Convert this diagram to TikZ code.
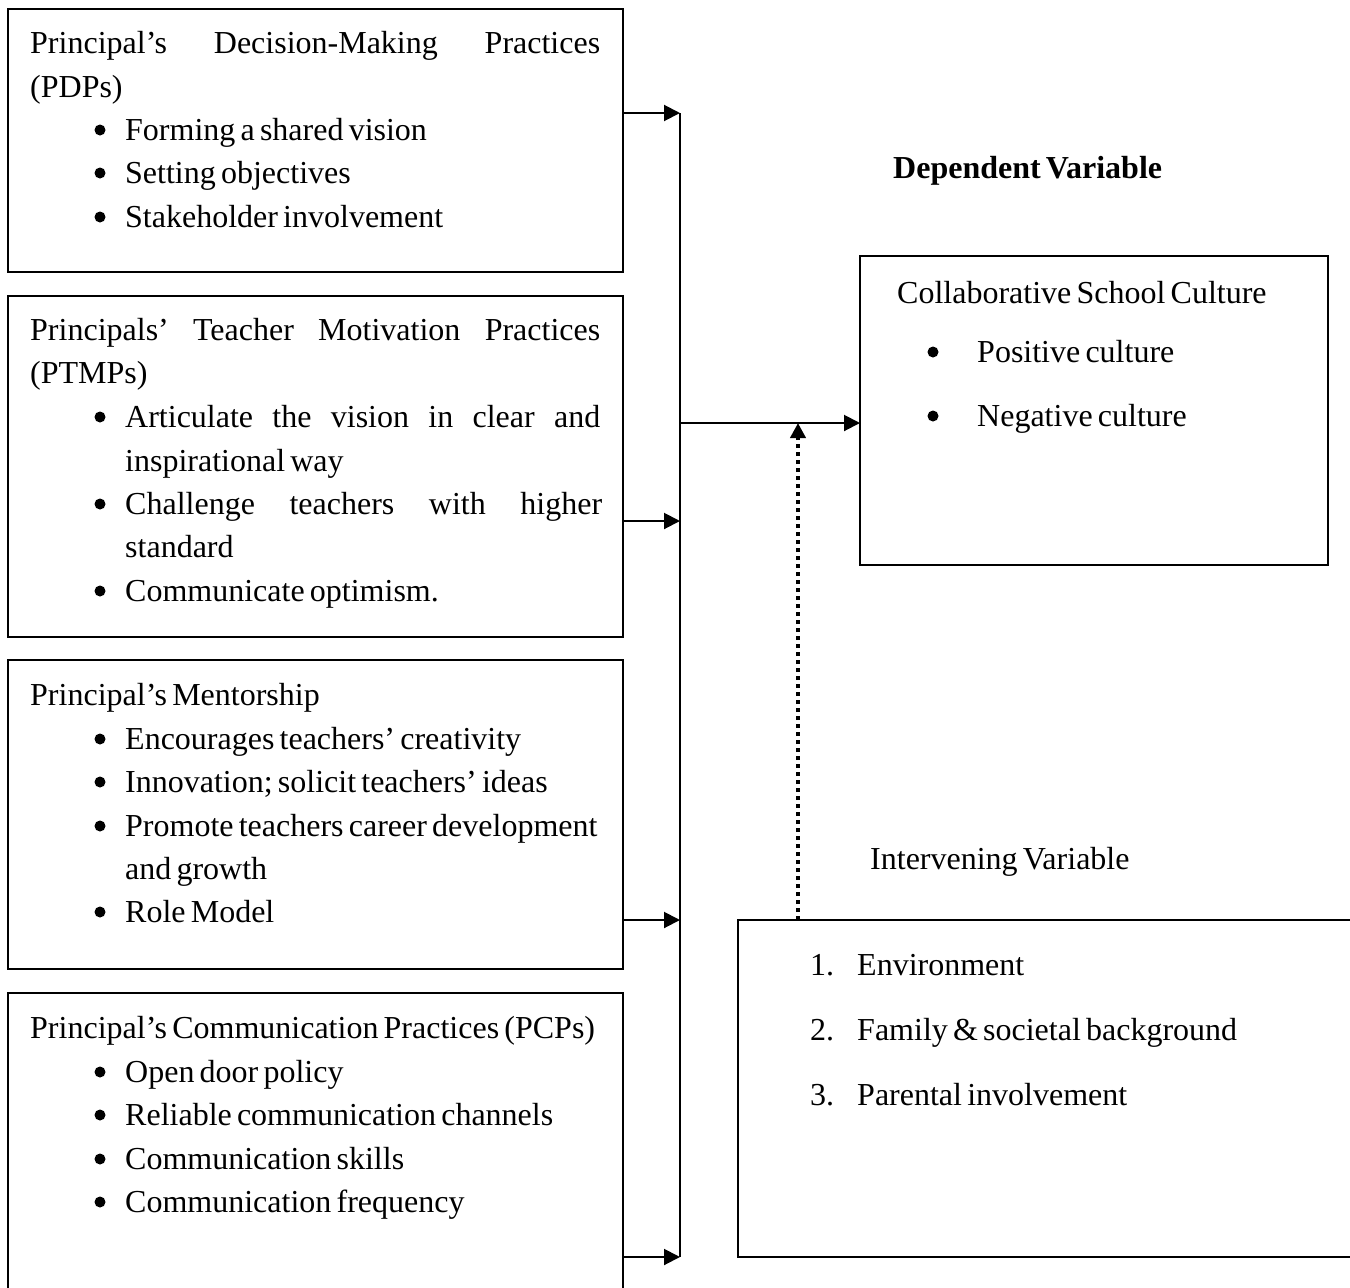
\documentclass[tikz,border=0pt]{standalone}
\usepackage{fontspec}
\setmainfont[WordSpace=0.65]{Liberation Serif}
\usetikzlibrary{arrows.meta}
\begin{document}
\begin{tikzpicture}[x=1pt,y=-1pt,
  every node/.style={font=\fontsize{32}{43.5}\selectfont},
  box/.style={draw,line width=2pt,anchor=north west,inner sep=0pt,outer sep=0pt},
  txt/.style={anchor=base west,inner sep=0pt},
  bul/.style={circle,fill,inner sep=0pt,minimum size=11pt,yshift=10pt},
  conn/.style={line width=2pt},
  arr/.style={line width=2pt,-{Triangle[length=16pt,width=16pt]}},
  dotarr/.style={line width=4pt,dash pattern=on 4pt off 4pt,-{Triangle[length=15pt,width=15pt]}}
]
\useasboundingbox (0,0) rectangle (1350,1288);
\clip (0,0) rectangle (1350,1288);
\fill[white] (0,0) rectangle (1350,1288);

% boxes
\node[box,minimum width=615pt,minimum height=263pt] (b1) at (8,9) {};
\node[box,minimum width=615pt,minimum height=341pt] (b2) at (8,296) {};
\node[box,minimum width=615pt,minimum height=309pt] (b3) at (8,660) {};
\node[box,minimum width=615pt,minimum height=340pt] (b4) at (8,993) {};
\node[box,minimum width=468pt,minimum height=309pt] (dv) at (860,256) {};
\node[box,minimum width=680pt,minimum height=337pt] (iv) at (738,920) {};

% box 1
\node[txt] (t11) at (30,53) {\makebox[570pt][s]{Principal’s Decision-Making Practices}};
\node[txt] (t12) at (30,97) {(PDPs)};
\node[bul] (u11) at (100,140) {};
\node[txt] (t13) at (125,140) {Forming a shared vision};
\node[bul] (u12) at (100,183) {};
\node[txt] (t14) at (125,183) {Setting objectives};
\node[bul] (u13) at (100,227) {};
\node[txt] (t15) at (125,227) {Stakeholder involvement};

% box 2
\node[txt] (t21) at (30,340) {\makebox[570pt][s]{Principals’ Teacher Motivation Practices}};
\node[txt] (t22) at (30,383) {(PTMPs)};
\node[bul] (u21) at (100,427) {};
\node[txt] (t23) at (125,427) {\makebox[475pt][s]{Articulate the vision in clear and}};
\node[txt] (t24) at (125,471) {inspirational way};
\node[bul] (u22) at (100,514) {};
\node[txt] (t25) at (125,514) {\makebox[477pt][s]{Challenge teachers with higher}};
\node[txt] (t26) at (125,557) {standard};
\node[bul] (u23) at (100,601) {};
\node[txt] (t27) at (125,601) {Communicate optimism.};

% box 3
\node[txt] (t31) at (30,705) {Principal’s Mentorship};
\node[bul] (u31) at (100,749) {};
\node[txt] (t32) at (125,749) {Encourages teachers’ creativity};
\node[bul] (u32) at (100,792) {};
\node[txt] (t33) at (125,792) {Innovation; solicit teachers’ ideas};
\node[bul] (u33) at (100,836) {};
\node[txt] (t34) at (125,836) {Promote teachers career development};
\node[txt] (t35) at (125,879) {and growth};
\node[bul] (u34) at (100,922) {};
\node[txt] (t36) at (125,922) {Role Model};

% box 4
\node[txt] (t41) at (30,1038) {Principal’s Communication Practices (PCPs)};
\node[bul] (u41) at (100,1082) {};
\node[txt] (t42) at (125,1082) {Open door policy};
\node[bul] (u42) at (100,1125) {};
\node[txt] (t43) at (125,1125) {Reliable communication channels};
\node[bul] (u43) at (100,1169) {};
\node[txt] (t44) at (125,1169) {Communication skills};
\node[bul] (u44) at (100,1212) {};
\node[txt] (t45) at (125,1212) {Communication frequency};

% dependent variable
\node[txt] (dvh) at (893,178) {\textbf{Dependent Variable}};
\node[txt] (d1) at (897,303) {Collaborative School Culture};
\node[bul] (du1) at (933,362) {};
\node[txt] (d2) at (977,362) {Positive culture};
\node[bul] (du2) at (933,426) {};
\node[txt] (d3) at (977,426) {Negative culture};

% intervening variable
\node[txt] (ivh) at (870,869) {Intervening Variable};
\node[txt] (n1) at (810,975) {1.};
\node[txt] (i1) at (857,975) {Environment};
\node[txt] (n2) at (810,1040) {2.};
\node[txt] (i2) at (857,1040) {Family \& societal background};
\node[txt] (n3) at (810,1105) {3.};
\node[txt] (i3) at (857,1105) {Parental involvement};

% connectors
\coordinate (v1) at (680,113);
\coordinate (v2) at (680,521);
\coordinate (v3) at (680,920);
\coordinate (v4) at (680,1257);
\coordinate (vo) at (680,423);
\coordinate (dt) at (798,920);
\draw[conn] (v1) -- (v4);
\draw[arr] (b1.east |- v1) -- (v1);
\draw[arr] (b2.east |- v2) -- (v2);
\draw[arr] (b3.east |- v3) -- (v3);
\draw[arr] (b4.east |- v4) -- (v4);
\draw[arr] (vo) -- (dv.west |- vo);
\draw[dotarr] (dt) -- (dt |- vo);
\end{tikzpicture}
\end{document}
